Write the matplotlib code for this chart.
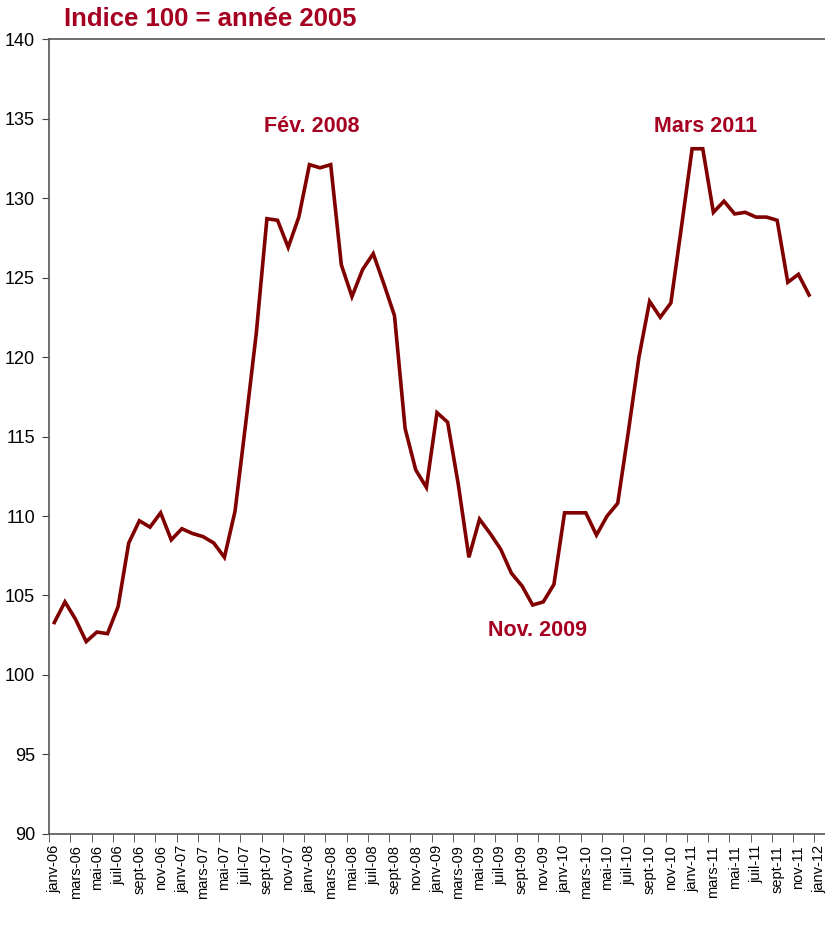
import matplotlib.pyplot as plt
import numpy as np
from matplotlib import font_manager

# month labels (janv-06 .. janv-12), label every 2 months
mois = ['janv', 'févr', 'mars', 'avr', 'mai', 'juin',
        'juil', 'août', 'sept', 'oct', 'nov', 'déc']
annees = ['06', '07', '08', '09', '10', '11', '12']
categories = [m + '-' + a for a in annees for m in mois][:73]

# index values (janv-06 .. déc-11)
valeurs = [103.3, 104.6, 103.5, 102.1, 102.7, 102.6, 104.3, 108.3, 109.7, 109.3,
           110.2, 108.5, 109.2, 108.9, 108.7, 108.3, 107.4, 110.3, 115.8, 121.5,
           128.7, 128.6, 126.9, 128.8, 132.1, 131.9, 132.1, 125.8, 123.8, 125.5,
           126.5, 124.6, 122.6, 115.5, 112.9, 111.8, 116.5, 115.9, 112.0, 107.4,
           109.8, 108.9, 107.9, 106.4, 105.6, 104.4, 104.6, 105.7, 110.2, 110.2,
           110.2, 108.8, 110.0, 110.8, 115.3, 120.0, 123.5, 122.5, 123.4, 128.2,
           133.1, 133.1, 129.1, 129.8, 129.0, 129.1, 128.8, 128.8, 128.6, 124.7,
           125.2, 123.9]

annotations = [('Fév. 2008', 24.2, 134.5),
               ('Nov. 2009', 45.5, 102.8),
               ('Mars 2011', 61.3, 134.5)]

rouge = '#A50021'
ligne = '#800000'

plt.rcParams['font.family'] = ['Liberation Sans', 'DejaVu Sans']

# narrow font for the y labels if one is installed
installes = {f.name for f in font_manager.fontManager.ttflist}
narrow = [f for f in ['Liberation Sans Narrow', 'DejaVu Sans Condensed'] if f in installes]

fig = plt.figure(figsize=(8.25, 9.25), dpi=100)
ax = fig.add_axes([0.0594, 0.0984, 0.9406, 0.8594])

x = np.arange(len(valeurs))
ax.plot(x, valeurs, color=ligne, linewidth=2.6, solid_joinstyle='miter')

ax.set_xlim(-0.5, 72.5)
ax.set_ylim(90, 140)
ax.set_yticks(np.arange(90, 141, 5))
ax.set_yticklabels([str(v) for v in range(90, 141, 5)],
                   family=narrow + ['Liberation Sans'], fontsize=13)

# labels at category centres, tick marks at category boundaries
ax.set_xticks(x[::2].tolist() + [72])
ax.set_xticklabels(categories[::2], rotation=90, fontsize=10.5)
ax.tick_params(axis='x', length=0, pad=8)
ax.set_xticks(np.arange(-0.5, 73, 2), minor=True)
ax.tick_params(axis='x', which='minor', length=6, color='#444444', direction='out')
ax.tick_params(axis='y', length=5, color='#444444', direction='out', pad=5)

for s in ['left', 'bottom', 'top']:
    ax.spines[s].set_color('#555555')
    ax.spines[s].set_linewidth(1.2)
ax.spines['right'].set_visible(False)

for txt, xa, ya in annotations:
    ax.text(xa, ya, txt, color=rouge, fontsize=15.5, fontweight='bold',
            ha='center', va='center')

fig.text(0.077, 0.979, 'Indice 100 = année 2005', color=rouge, fontsize=18.5,
         fontweight='bold', ha='left', va='center')

fig.savefig('out.png', dpi=100)
